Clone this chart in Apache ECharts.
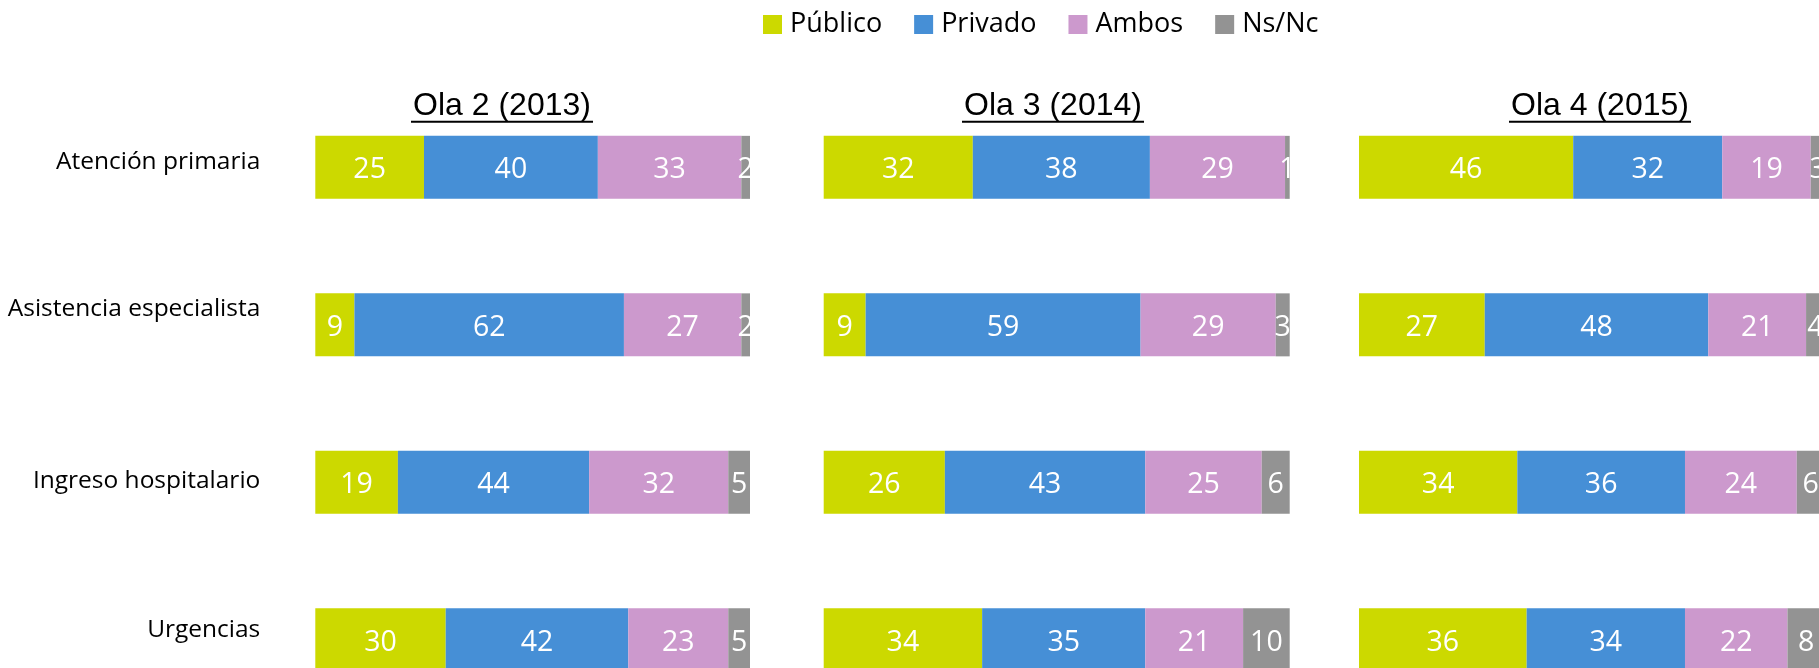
<!DOCTYPE html>
<html>
<head>
<meta charset="utf-8">
<script src="https://cdn.jsdelivr.net/npm/echarts@6/dist/echarts.min.js"></script>
<style>
  html, body { margin: 0; padding: 0; background: #fff; }
  #chart { width: 1819px; height: 668px; }
</style>
</head>
<body>
<div id="chart"></div>
<script>
// datos
const categories = ['Atención primaria', 'Asistencia especialista', 'Ingreso hospitalario', 'Urgencias']
const waves = ['Ola 2 (2013)', 'Ola 3 (2014)', 'Ola 4 (2015)']
const seriesNames = ['Público', 'Privado', 'Ambos', 'Ns/Nc']

// one array per wave, in category order
const publico = [[25, 9, 19, 30], [32, 9, 26, 34], [46, 27, 34, 36]]
const privado = [[40, 62, 44, 42], [38, 59, 43, 35], [32, 48, 36, 34]]
const ambos = [[33, 27, 32, 23], [29, 29, 25, 21], [19, 21, 24, 22]]
const nsnc = [[2, 2, 5, 5], [1, 3, 6, 10], [3, 4, 6, 8]]

// layout
const colors = ['#CCD900', '#468FD6', '#CC99CD', '#939393']
const panels = [
  { left: 315.3, width: 434.7, titleX: 502 },
  { left: 823.7, width: 466, titleX: 1053 },
  { left: 1359, width: 465.7, titleX: 1600 }
]
const labelShift = [5, 16, 1, 10]
const font = '"Open Sans", sans-serif'

const chart = echarts.init(document.getElementById('chart'))

const valueSets = [publico, privado, ambos, nsnc]
const grid = []
const xAxis = []
const yAxis = []
const series = []
const graphic = []

// rich styles to lift each category label a little, like the original text boxes
const labelRich = {}
labelShift.forEach((d, k) => {
  labelRich['r' + k] = {
    color: '#000',
    fontSize: 24.5,
    fontFamily: font,
    padding: [0, 0, d * 2, 0]
  }
})

panels.forEach((p, i) => {
  // the last row runs past the bottom edge (and panel 3 past the right edge), as in the original
  grid.push({
    left: p.left, width: p.width, top: 88.6, height: 630,
    outerBoundsMode: 'none'
  })
  xAxis.push({
    gridIndex: i, type: 'value', min: 0, max: 100, show: false
  })
  yAxis.push({
    gridIndex: i,
    type: 'category',
    inverse: true,
    data: categories,
    axisLine: { show: false },
    axisTick: { show: false },
    splitLine: { show: false },
    axisLabel: {
      show: i === 0,
      margin: 55,
      color: '#000',
      fontSize: 24.5,
      fontFamily: font,
      formatter: (value, index) => '{r' + index + '|' + value + '}',
      rich: labelRich
    }
  })
  seriesNames.forEach((name, s) => {
    series.push({
      name: name,
      type: 'bar',
      stack: 'ola' + i,
      xAxisIndex: i,
      yAxisIndex: i,
      barWidth: 63,
      data: valueSets[s][i],
      itemStyle: { color: colors[s] },
      label: {
        show: true,
        position: 'inside',
        offset: [0, 3],
        color: '#fff',
        fontSize: 28.5,
        fontFamily: font
      },
      emphasis: { disabled: true }
    })
  })

  // titulo subrayado
  graphic.push({
    type: 'text',
    x: p.titleX,
    y: 106.5,
    style: {
      text: waves[i],
      align: 'center',
      verticalAlign: 'middle',
      font: '32px "Liberation Sans", Arial, sans-serif',
      fill: '#000'
    }
  })
  graphic.push({
    type: 'line',
    shape: { x1: p.titleX - 91, y1: 121.7, x2: p.titleX + 91, y2: 121.7 },
    style: { stroke: '#000', lineWidth: 2 }
  })
})

const option = {
  backgroundColor: '#fff',
  animation: false,
  color: colors,
  legend: {
    data: seriesNames,
    left: 758,
    top: 6,
    icon: 'rect',
    itemWidth: 19,
    itemHeight: 19,
    itemGap: 32,
    textStyle: {
      color: '#000',
      fontSize: 27,
      fontFamily: font,
      padding: [0, 0, 0, 3]
    }
  },
  grid: grid,
  xAxis: xAxis,
  yAxis: yAxis,
  series: series,
  graphic: graphic
}

chart.setOption(option)
</script>
</body>
</html>
